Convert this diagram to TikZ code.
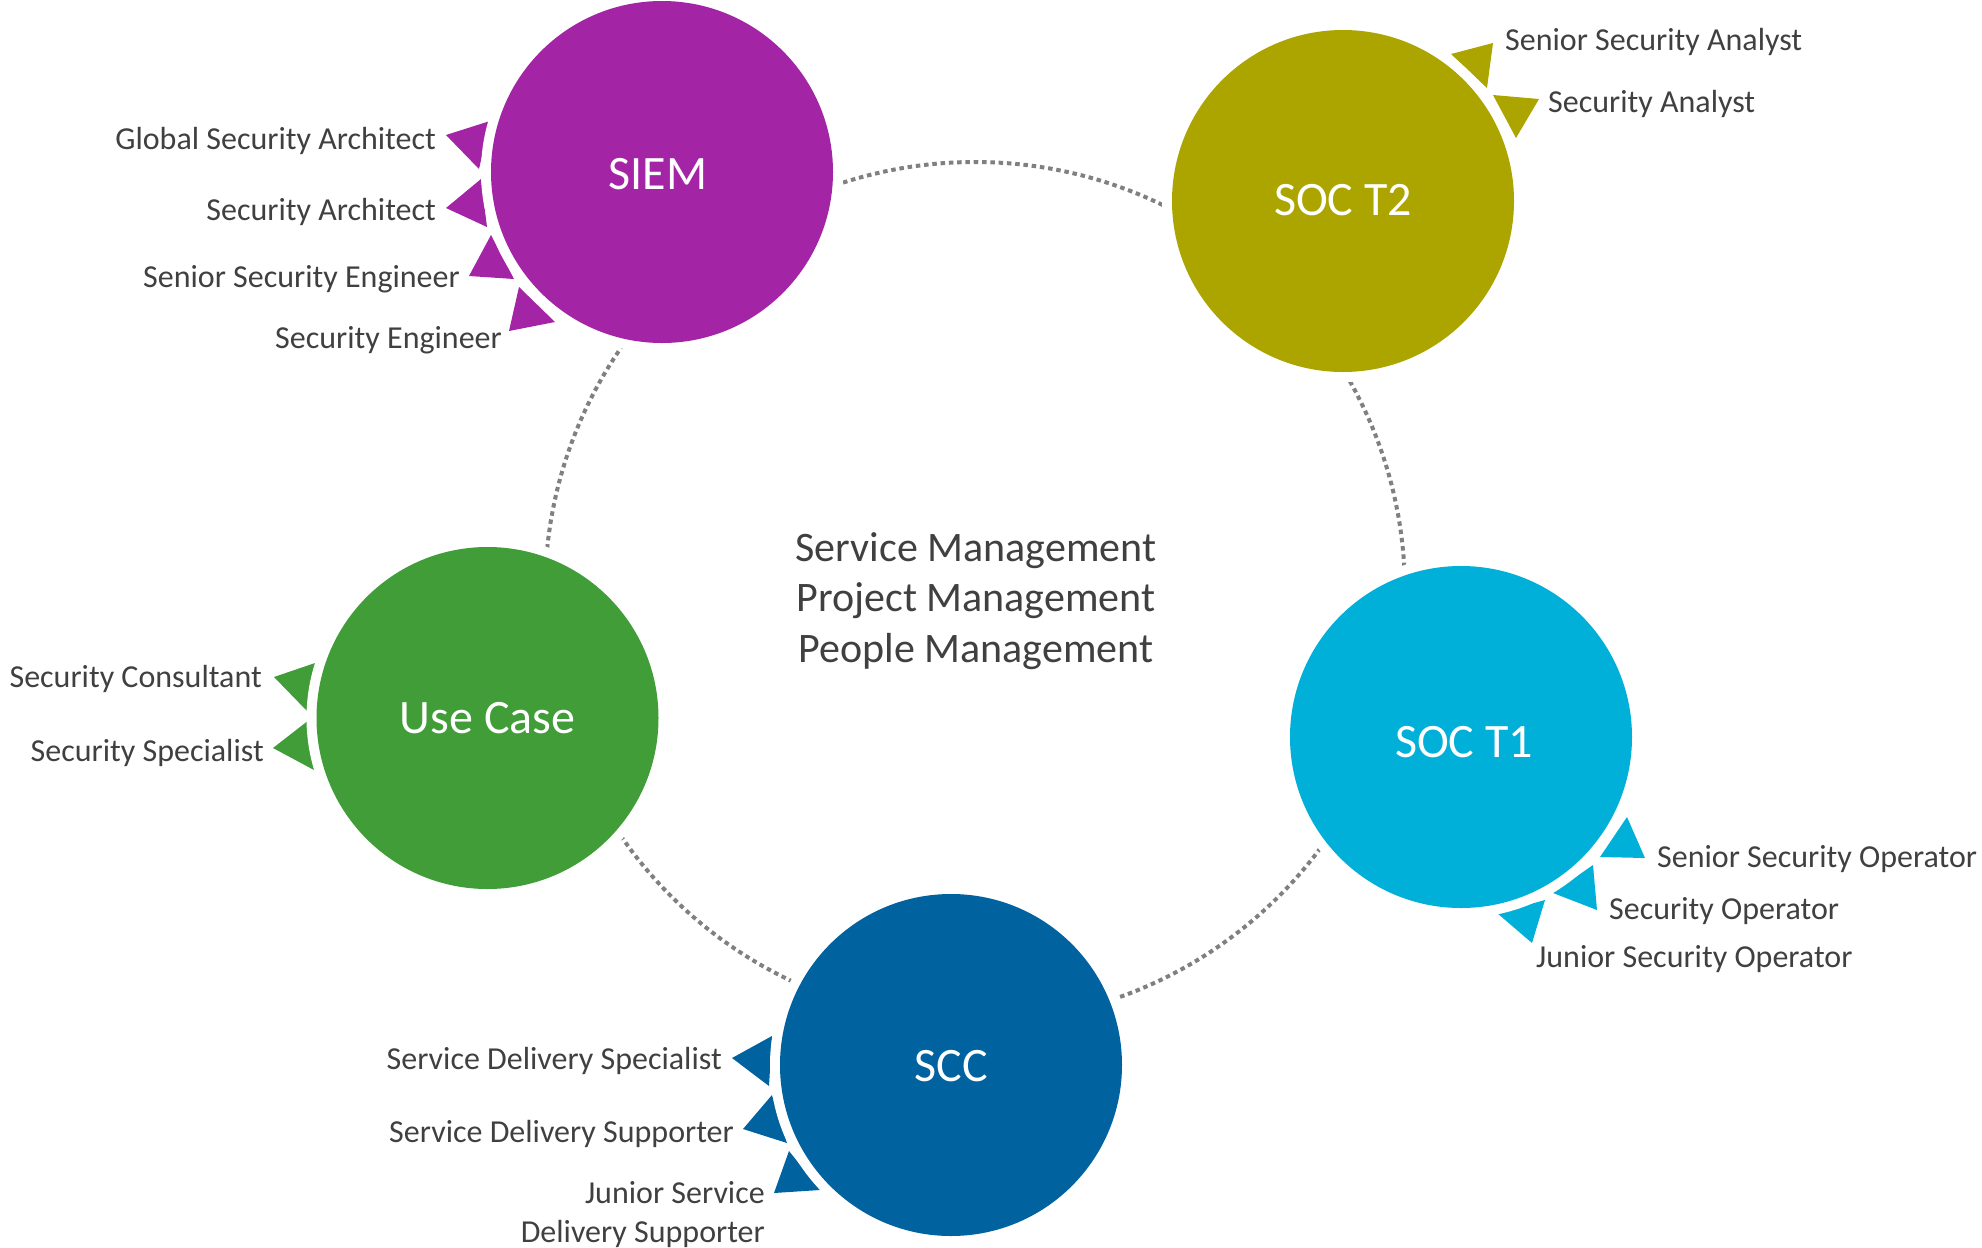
\documentclass[tikz,border=0pt]{standalone}
\usepackage{fontspec}
\setmainfont{Carlito}
\definecolor{siemc}{RGB}{163,37,165}
\definecolor{soctwoc}{RGB}{172,165,0}
\definecolor{soconec}{RGB}{0,176,216}
\definecolor{sccc}{RGB}{0,99,160}
\definecolor{usecasec}{RGB}{64,157,55}
\definecolor{textc}{RGB}{64,64,64}
\definecolor{dotc}{RGB}{128,128,128}
\begin{document}
\begin{tikzpicture}[x=1pt,y=-1pt,
  bubble/.style={circle, inner sep=0pt, minimum size=342pt, text=white,
    font=\fontsize{48}{56}\selectfont,
    preaction={draw=white, line width=20pt}},
  role/.style={text=textc, font=\fontsize{32}{39}\selectfont, inner sep=0pt},
  center text/.style={text=textc, font=\fontsize{42}{50.5}\selectfont, align=center, inner sep=0pt},
  ringline/.style={draw=dotc, line width=4pt, dash pattern=on 4.5pt off 3.8pt}]
\useasboundingbox (0,0) rectangle (1982,1248);

% dotted ring
\coordinate (ringc) at (975,592);
\draw[ringline] (ringc) circle (430pt);

% pointers SIEM
\fill[siemc] (490,121) -- (479,169) -- (446,135) -- cycle;
\fill[siemc] (481,179) -- (487,227) -- (446,208) -- cycle;
\fill[siemc] (491,235) -- (514,279) -- (469,276) -- cycle;
\fill[siemc] (519,287) -- (555,322) -- (509,331) -- cycle;
% pointers SOC T2
\fill[soctwoc] (1493,43) -- (1487,88) -- (1451,54) -- cycle;
\fill[soctwoc] (1493,95) -- (1539,99) -- (1516,138) -- cycle;
% pointers SOC T1
\fill[soconec] (1627,817) -- (1645,858) -- (1600,857) -- cycle;
\fill[soconec] (1593,865) -- (1597,910) -- (1553,893) -- cycle;
\fill[soconec] (1545,900) -- (1532,943) -- (1497,913) -- cycle;
% pointers SCC
\fill[sccc] (772,1036) -- (769,1086) -- (732,1058) -- cycle;
\fill[sccc] (772,1095) -- (787,1143) -- (743,1129) -- cycle;
\fill[sccc] (789,1151) -- (820,1190) -- (774,1193) -- cycle;
% pointers Use Case
\fill[usecasec] (318,662) -- (307,711) -- (274,677) -- cycle;
\fill[usecasec] (309,720) -- (314,770) -- (273,748) -- cycle;

% bubbles
\node[bubble, fill=siemc] (siem) at (662,172) {\hspace*{-8pt}\raisebox{-2pt}[\height][\depth]{SIEM}};
\node[bubble, fill=soctwoc] (soct2) at (1343,201) {\raisebox{1pt}[\height][\depth]{SOC T2}};
\node[bubble, fill=soconec] (soct1) at (1461,737) {\raisebox{-5pt}[\height][\depth]{SOC T1}\hspace*{-6pt}};
\node[bubble, fill=sccc] (scc) at (951,1065) {\raisebox{-1pt}[\height][\depth]{SCC}};
\node[bubble, fill=usecasec] (usecase) at (487.5,718) {Use Case};

% center text
\node[center text] (mgmt) at (976,601) {Service Management\\Project Management\\People Management};

% role labels
\node[role, anchor=mid east] (gsa) at (436,147) {Global Security Architect};
\node[role, anchor=mid east] (sa) at (436,218) {Security Architect};
\node[role, anchor=mid east] (sse) at (460,285) {Senior Security Engineer};
\node[role, anchor=mid east] (se) at (502,346) {Security Engineer};

\node[role, anchor=mid west] (ssan) at (1505,48) {Senior Security Analyst};
\node[role, anchor=mid west] (san) at (1548,110) {Security Analyst};

\node[role, anchor=mid west] (sso) at (1657,865) {Senior Security Operator};
\node[role, anchor=mid west] (so) at (1609,917) {Security Operator};
\node[role, anchor=mid west] (jso) at (1536,965) {Junior Security Operator};

\node[role, anchor=mid east] (sds) at (722,1067) {Service Delivery Specialist};
\node[role, anchor=mid east] (sdsu) at (734,1140) {Service Delivery Supporter};
\node[role, anchor=east, align=right] (jsds) at (765,1215) {Junior Service\\Delivery Supporter};

\node[role, anchor=mid east] (sc) at (262,685) {Security Consultant};
\node[role, anchor=mid east] (ss) at (264,759) {Security Specialist};
\end{tikzpicture}
\end{document}
